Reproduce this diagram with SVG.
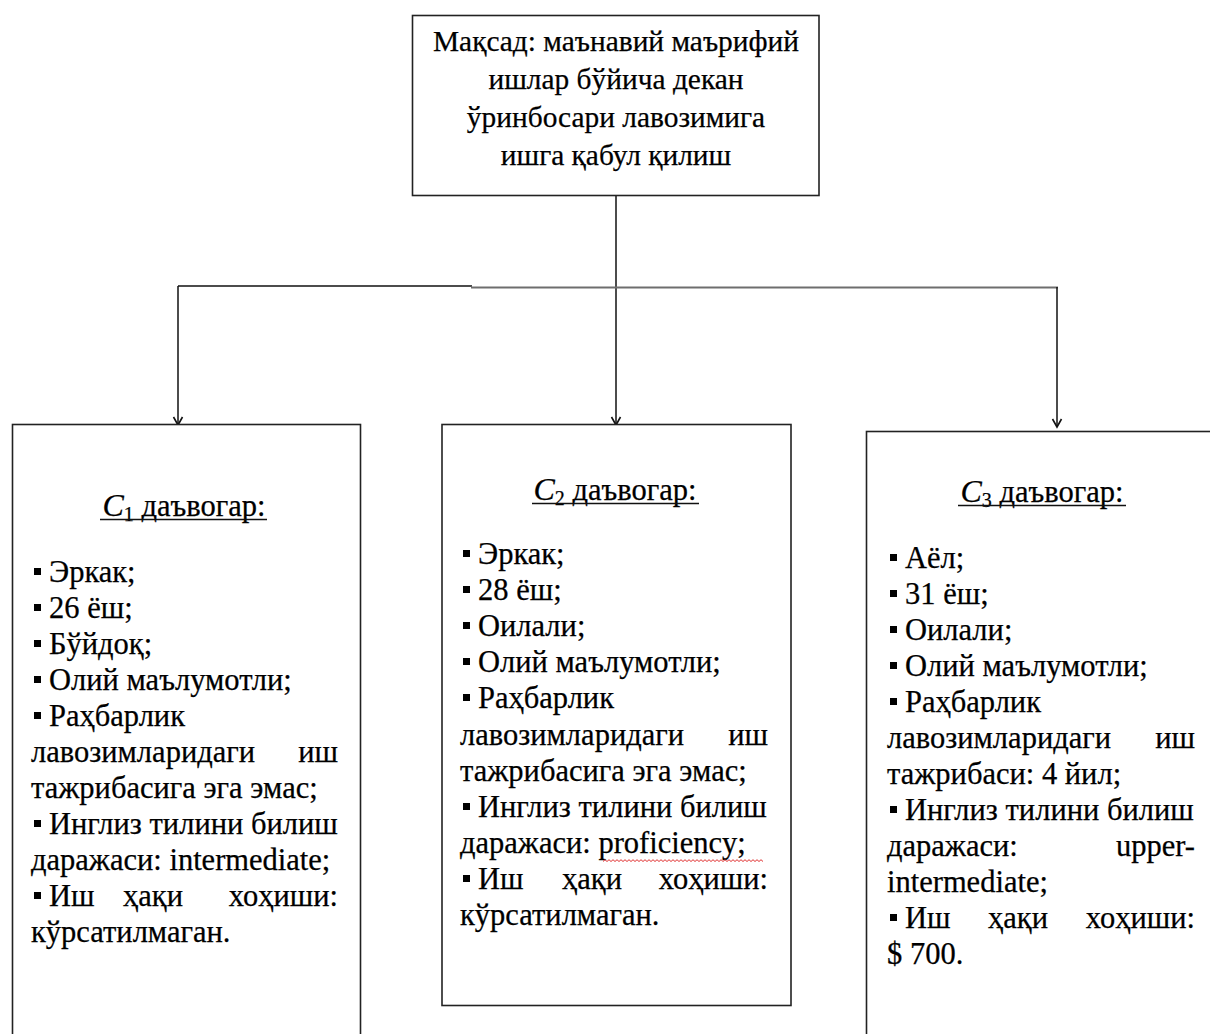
<svg xmlns="http://www.w3.org/2000/svg" width="1210" height="1034" viewBox="0 0 1210 1034">
<defs>
<style>
.box{fill:#fff;stroke:#222;stroke-width:1.6}
.t{font-family:"Liberation Serif","Times New Roman","DejaVu Serif",serif;font-size:30.5px;fill:#000;stroke:#000;stroke-width:0.25}
.h{font-family:"Liberation Serif","Times New Roman","DejaVu Serif",serif;font-size:29.4px;fill:#000;stroke:#000;stroke-width:0.25;text-anchor:middle}
.e{text-anchor:end}
.m{text-anchor:middle}
.b{fill:#000}
.c{fill:none;stroke:#111;stroke-width:1.5}
.ul{stroke:#111;stroke-width:1.4}
</style>
<marker id="ah" markerUnits="userSpaceOnUse" markerWidth="14" markerHeight="14" refX="12" refY="7" orient="auto">
<path d="M4,2.5 L12,7 L4,11.5" fill="none" stroke="#111" stroke-width="1.6"/>
</marker>
</defs>
<rect width="1210" height="1034" fill="#fff"/>

<g id="connectors">
<line class="c" x1="616" y1="196" x2="616" y2="425" marker-end="url(#ah)"/>
<line class="c" x1="178" y1="286" x2="472" y2="286"/>
<line x1="471" y1="287.5" x2="1058" y2="287.5" stroke="#6e6e6e" stroke-width="2.2"/>
<line class="c" x1="178" y1="286" x2="178" y2="425" marker-end="url(#ah)"/>
<line class="c" x1="1057" y1="287" x2="1057" y2="427" marker-end="url(#ah)"/>
</g>

<g id="goal">
<rect class="box" x="412.5" y="15.5" width="406.5" height="180"/>
<text class="h" x="616" y="51">Мақсад: маънавий маърифий</text>
<text class="h" x="616" y="89">ишлар бўйича декан</text>
<text class="h" x="616" y="127">ўринбосари лавозимига</text>
<text class="h" x="616" y="165">ишга қабул қилиш</text>
</g>

<g id="c1">
<rect class="box" x="12.5" y="424.5" width="348" height="620"/>
<text class="t m" x="184" y="516"><tspan font-style="italic" font-size="32">C</tspan><tspan font-size="20" dy="5">1</tspan><tspan dy="-5"> даъвогар:</tspan></text>
<line class="ul" x1="100" y1="519.5" x2="267" y2="519.5"/>
<rect class="b" x="34" y="568" width="7" height="7"/>
<text class="t" x="49" y="582">Эркак;</text>
<rect class="b" x="34" y="604" width="7" height="7"/>
<text class="t" x="49" y="618">26 ёш;</text>
<rect class="b" x="34" y="640" width="7" height="7"/>
<text class="t" x="49" y="654">Бўйдоқ;</text>
<rect class="b" x="34" y="676" width="7" height="7"/>
<text class="t" x="49" y="690">Олий маълумотли;</text>
<rect class="b" x="34" y="712" width="7" height="7"/>
<text class="t" x="49" y="726">Раҳбарлик</text>
<text class="t" x="31" y="762">лавозимларидаги</text>
<text class="t e" x="338" y="762">иш</text>
<text class="t" x="31" y="798">тажрибасига эга эмас;</text>
<rect class="b" x="34" y="820" width="7" height="7"/>
<text class="t" x="49" y="834">Инглиз тилини билиш</text>
<text class="t" x="31" y="870">даражаси: intermediate;</text>
<rect class="b" x="34" y="892" width="7" height="7"/>
<text class="t" x="49" y="906">Иш</text>
<text class="t m" x="153" y="906">ҳақи</text>
<text class="t e" x="338" y="906">хоҳиши:</text>
<text class="t" x="31" y="942">кўрсатилмаган.</text>
</g>

<g id="c2">
<rect class="box" x="442" y="424.5" width="349" height="581"/>
<text class="t m" x="615" y="500"><tspan font-style="italic" font-size="32">C</tspan><tspan font-size="20" dy="5">2</tspan><tspan dy="-5"> даъвогар:</tspan></text>
<line class="ul" x1="532" y1="503.5" x2="699" y2="503.5"/>
<rect class="b" x="463" y="550" width="7" height="7"/>
<text class="t" x="478" y="564">Эркак;</text>
<rect class="b" x="463" y="586" width="7" height="7"/>
<text class="t" x="478" y="600">28 ёш;</text>
<rect class="b" x="463" y="622" width="7" height="7"/>
<text class="t" x="478" y="636">Оилали;</text>
<rect class="b" x="463" y="658" width="7" height="7"/>
<text class="t" x="478" y="672">Олий маълумотли;</text>
<rect class="b" x="463" y="694" width="7" height="7"/>
<text class="t" x="478" y="708">Раҳбарлик</text>
<text class="t" x="460" y="745">лавозимларидаги</text>
<text class="t e" x="768" y="745">иш</text>
<text class="t" x="460" y="781">тажрибасига эга эмас;</text>
<rect class="b" x="463" y="803" width="7" height="7"/>
<text class="t" x="478" y="817">Инглиз тилини билиш</text>
<text class="t" x="460" y="853">даражаси: proficiency;</text>
<path d="M603 861.5 l2 -1.8 l2 1.8 l2 -1.8 l2 1.8 l2 -1.8 l2 1.8 l2 -1.8 l2 1.8 l2 -1.8 l2 1.8 l2 -1.8 l2 1.8 l2 -1.8 l2 1.8 l2 -1.8 l2 1.8 l2 -1.8 l2 1.8 l2 -1.8 l2 1.8 l2 -1.8 l2 1.8 l2 -1.8 l2 1.8 l2 -1.8 l2 1.8 l2 -1.8 l2 1.8 l2 -1.8 l2 1.8 l2 -1.8 l2 1.8 l2 -1.8 l2 1.8 l2 -1.8 l2 1.8 l2 -1.8 l2 1.8 l2 -1.8 l2 1.8 l2 -1.8 l2 1.8 l2 -1.8 l2 1.8 l2 -1.8 l2 1.8 l2 -1.8 l2 1.8 l2 -1.8 l2 1.8 l2 -1.8 l2 1.8 l2 -1.8 l2 1.8 l2 -1.8 l2 1.8 l2 -1.8 l2 1.8 l2 -1.8 l2 1.8 l2 -1.8 l2 1.8 l2 -1.8 l2 1.8 l2 -1.8 l2 1.8 l2 -1.8 l2 1.8 l2 -1.8 l2 1.8 l2 -1.8 l2 1.8 l2 -1.8 l2 1.8 l2 -1.8 l2 1.8 l2 -1.8 l2 1.8 l2 -1.8 l2 1.8" fill="none" stroke="#e03030" stroke-width="1"/>
<rect class="b" x="463" y="875" width="7" height="7"/>
<text class="t" x="478" y="889">Иш</text>
<text class="t m" x="592" y="889">ҳақи</text>
<text class="t e" x="768" y="889">хоҳиши:</text>
<text class="t" x="460" y="925">кўрсатилмаган.</text>
</g>

<g id="c3">
<rect class="box" x="866.5" y="431.5" width="360" height="620"/>
<text class="t m" x="1042" y="502"><tspan font-style="italic" font-size="32">C</tspan><tspan font-size="20" dy="5">3</tspan><tspan dy="-5"> даъвогар:</tspan></text>
<line class="ul" x1="958" y1="505.5" x2="1126" y2="505.5"/>
<rect class="b" x="890" y="554" width="7" height="7"/>
<text class="t" x="905" y="568">Аёл;</text>
<rect class="b" x="890" y="590" width="7" height="7"/>
<text class="t" x="905" y="604">31 ёш;</text>
<rect class="b" x="890" y="626" width="7" height="7"/>
<text class="t" x="905" y="640">Оилали;</text>
<rect class="b" x="890" y="662" width="7" height="7"/>
<text class="t" x="905" y="676">Олий маълумотли;</text>
<rect class="b" x="890" y="698" width="7" height="7"/>
<text class="t" x="905" y="712">Раҳбарлик</text>
<text class="t" x="887" y="748">лавозимларидаги</text>
<text class="t e" x="1195" y="748">иш</text>
<text class="t" x="887" y="784">тажрибаси: 4 йил;</text>
<rect class="b" x="890" y="806" width="7" height="7"/>
<text class="t" x="905" y="820">Инглиз тилини билиш</text>
<text class="t" x="887" y="856">даражаси:</text>
<text class="t e" x="1195" y="856">upper-</text>
<text class="t" x="887" y="892">intermediate;</text>
<rect class="b" x="890" y="914" width="7" height="7"/>
<text class="t" x="905" y="928">Иш</text>
<text class="t m" x="1018" y="928">ҳақи</text>
<text class="t e" x="1195" y="928">хоҳиши:</text>
<text class="t" x="887" y="964">$ 700.</text>
</g>
</svg>
